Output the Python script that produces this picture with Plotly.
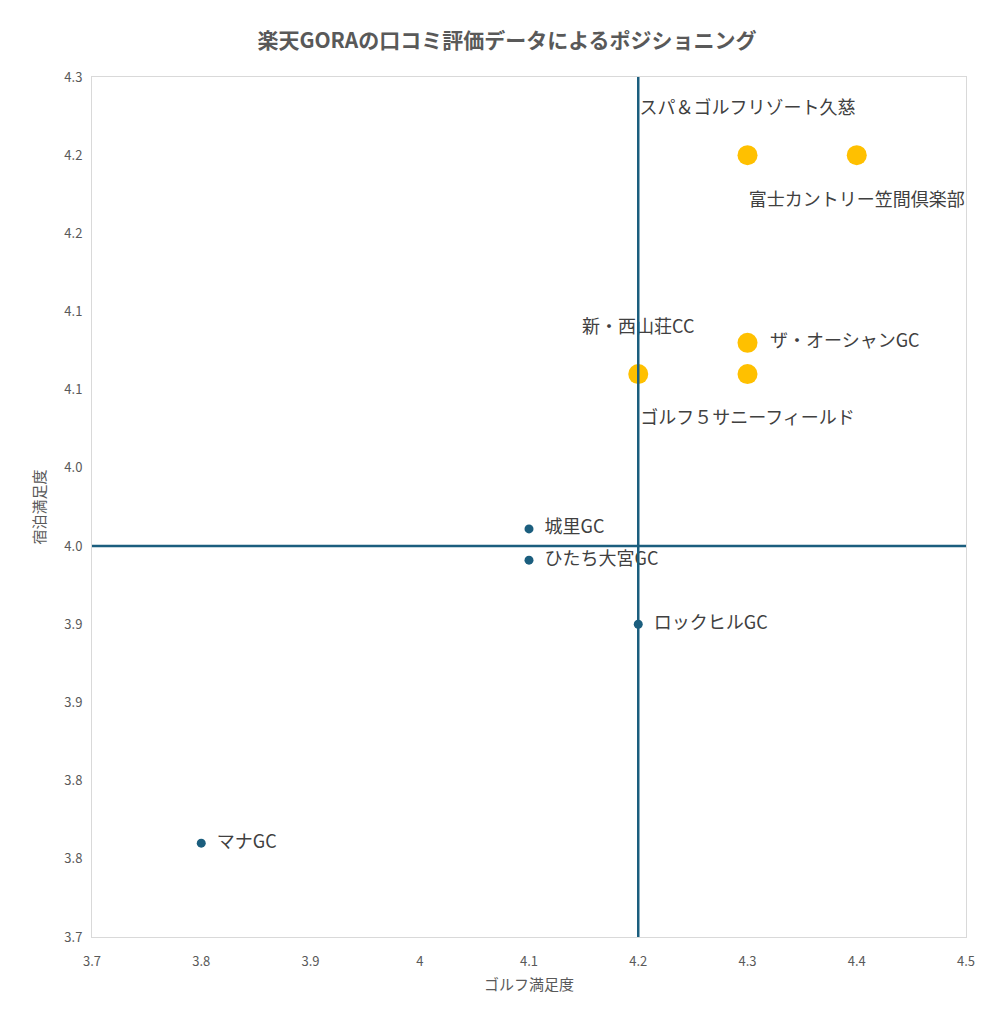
import plotly.graph_objects as go

# 上位グループ
top_names = ["スパ＆ゴルフリゾート久慈", "富士カントリー笠間倶楽部", "新・西山荘CC", "ザ・オーシャンGC", "ゴルフ５サニーフィールド"]
top_x = [4.3, 4.4, 4.2, 4.3, 4.3]
top_y = [4.25, 4.25, 4.11, 4.13, 4.11]
top_pos = ["top center", "bottom center", "top center", "middle right", "bottom center"]

# その他
low_names = ["城里GC", "ひたち大宮GC", "ロックヒルGC", "マナGC"]
low_x = [4.1, 4.1, 4.2, 3.8]
low_y = [4.011, 3.991, 3.95, 3.81]

y_ticks = [3.75, 3.80, 3.85, 3.90, 3.95, 4.00, 4.05, 4.10, 4.15, 4.20, 4.25, 4.30]
y_labels = ["3.7", "3.8", "3.8", "3.9", "3.9", "4.0", "4.0", "4.1", "4.1", "4.2", "4.2", "4.3"]
x_ticks = [3.7, 3.8, 3.9, 4.0, 4.1, 4.2, 4.3, 4.4, 4.5]
x_labels = ["3.7", "3.8", "3.9", "4", "4.1", "4.2", "4.3", "4.4", "4.5"]

line_col = "#1b5e7e"
fig = go.Figure()
fig.add_shape(type="line", x0=4.2, x1=4.2, y0=3.75, y1=4.30, line=dict(color=line_col, width=2.5))
fig.add_shape(type="line", x0=3.7, x1=4.5, y0=4.0, y1=4.0, line=dict(color=line_col, width=2.5))

top_text = []
for n, p in zip(top_names, top_pos):
    if p.startswith("top"):
        top_text.append(n + "<br> ")
    elif p.startswith("bottom"):
        top_text.append(" <br>" + n)
    else:
        top_text.append("\u2002" + n)
fig.add_scatter(x=top_x, y=top_y, mode="markers+text", text=top_text, textposition=top_pos,
                marker=dict(size=20, color="#ffc000"),
                textfont=dict(size=18, color="#404040"))
fig.add_scatter(x=low_x, y=low_y, mode="markers+text", text=["\u2002" + n for n in low_names],
                textposition="middle right",
                marker=dict(size=9, color=line_col),
                textfont=dict(size=18, color="#404040"))

fig.update_layout(
    width=998, height=1024,
    showlegend=False,
    paper_bgcolor="white", plot_bgcolor="white",
    margin=dict(l=84, r=40, t=69, b=95),
    font=dict(family="Noto Sans CJK JP", color="#595959"),
    title=dict(text="<b>楽天GORAの口コミ評価データによるポジショニング</b>", x=0.5, y=0.975,
               font=dict(size=21, color="#595959")),
)
fig.update_xaxes(range=[3.7, 4.5], tickvals=x_ticks, ticktext=x_labels, showgrid=False, zeroline=False,
                 showline=True, linecolor="#d9d9d9", mirror=True, tickfont=dict(size=13),
                 ticks="outside", ticklen=12, tickcolor="rgba(0,0,0,0)",
                 title=dict(text="ゴルフ満足度", font=dict(size=15), standoff=10))
fig.update_yaxes(range=[3.75, 4.30], tickvals=y_ticks, ticktext=y_labels, showgrid=False, zeroline=False,
                 showline=True, linecolor="#d9d9d9", mirror=True, tickfont=dict(size=13),
                 ticks="outside", ticklen=6, tickcolor="rgba(0,0,0,0)",
                 title=dict(text="宿泊満足度", font=dict(size=15)))
fig.write_html("out.html")
